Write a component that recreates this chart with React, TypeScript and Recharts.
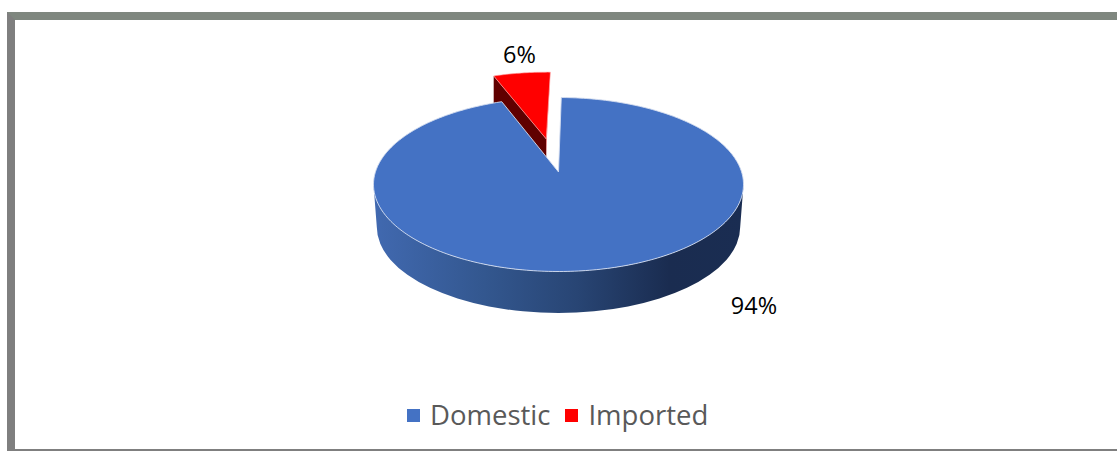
// App.tsx
// Domestic / imported share, drawn as a tilted pie with one exploded slice
import { PieChart, Pie, Legend } from 'recharts'

const categories = ['Domestic', 'Imported']
const shares = [94, 6]
const sliceColors = ['#4472c4', '#ff0000']

// painted back to front: the imported slice sits behind the domestic face
const rows = categories
  .map((name, i) => ({ name, value: shares[i], fill: sliceColors[i] }))
  .reverse()

const CX = 558.5
const CY = 184.5
const RX = 185
const RY = 87
const HUB_SHIFT = 0.144 // perspective: where the circle's centre lands on the ellipse
const EXPLODE = 0.416
const RAD = Math.PI / 180

const labelOffsets: Record<string, [number, number]> = {
  Domestic: [190.5, 115.5],
  Imported: [-44, -135.5],
}

// disc coordinates -> screen, a projective map that keeps the outline an ellipse
const project = (u: number, v: number): [number, number] => {
  const w = 1 + HUB_SHIFT * v
  const x = (u * Math.sqrt(1 - HUB_SHIFT * HUB_SHIFT)) / w
  const y = (v + HUB_SHIFT) / w
  return [CX + RX * x, CY - RY * y]
}

const wedge = (startAngle: number, endAngle: number, ox = 0, oy = 0) => {
  const pts: [number, number][] = []
  const steps = Math.max(2, Math.ceil(Math.abs(endAngle - startAngle)))
  for (let i = 0; i <= steps; i++) {
    const a = (startAngle + ((endAngle - startAngle) * i) / steps) * RAD
    pts.push(project(ox + Math.cos(a), oy + Math.sin(a)))
  }
  return { hub: project(ox, oy), rim: pts }
}

const toPath = (pts: [number, number][]) =>
  'M' + pts.map(p => `${p[0].toFixed(2)},${p[1].toFixed(2)}`).join('L') + 'Z'

const DomesticSlice = ({ startAngle, endAngle, fill }: any) => {
  const { hub, rim } = wedge(startAngle, endAngle)
  const wall = `M${CX - RX},${CY} A${RX},${RY} 0 0 0 ${CX + RX},${CY} L${CX + 181.7},227 A181.7,86 0 0 1 ${CX - 181.7},227 Z`
  return (
    <g>
      <defs>
        <linearGradient id="domesticWall" x1="0" x2="1" y1="0" y2="0">
          <stop offset="0" stopColor="#4169b0" />
          <stop offset="0.3" stopColor="#33578f" />
          <stop offset="0.55" stopColor="#284574" />
          <stop offset="0.8" stopColor="#1a2c50" />
          <stop offset="1" stopColor="#1a2d52" />
        </linearGradient>
      </defs>
      <path d={wall} fill="url(#domesticWall)" />
      <path d={toPath([hub, ...rim])} fill={fill} stroke="#d5deef" strokeWidth={0.9} />
    </g>
  )
}

const ImportedSlice = ({ startAngle, endAngle, fill }: any) => {
  const mid = ((startAngle + endAngle) / 2) * RAD
  const { hub, rim } = wedge(startAngle, endAngle, EXPLODE * Math.cos(mid), EXPLODE * Math.sin(mid))
  const left = rim[0]
  const right = rim[rim.length - 1]
  const depth = 30
  return (
    <g>
      <path
        d={toPath([left, hub, [hub[0], hub[1] + depth], [left[0], left[1] + depth]])}
        fill="#600000"
      />
      <path
        d={toPath([right, hub, [hub[0], hub[1] + 18], [hub[0] + 1, hub[1] - 10]])}
        fill="#f06060"
      />
      <path d={toPath([hub, ...rim])} fill={fill} stroke="#ffb0b0" strokeWidth={0.6} />
    </g>
  )
}

const renderSlice = (props: any) =>
  props.name === 'Domestic' ? <DomesticSlice {...props} /> : <ImportedSlice {...props} />

const renderLabel = ({ cx, cy, name, value }: any) => {
  const [dx, dy] = labelOffsets[name]
  return (
    <text
      x={cx + dx}
      y={cy + dy}
      textAnchor="middle"
      dominantBaseline="central"
      fontFamily="'Open Sans', sans-serif"
      fontSize={23.5}
      fill="#000"
    >
      {value}%
    </text>
  )
}

const renderLegend = ({ payload }: any) => (
  <div style={{ display: 'flex', fontFamily: "'Open Sans', sans-serif", fontSize: 27.5, color: '#595959', lineHeight: '36px' }}>
    {payload.map((item: any) => (
      <div key={item.value} style={{ display: 'flex', alignItems: 'center', marginRight: 15 }}>
        <span style={{ width: 13, height: 13, background: item.color, marginRight: 10 }} />
        {item.value}
      </div>
    ))}
  </div>
)

export default function App() {
  return (
    <div style={{ position: 'absolute', left: 0, top: 0, width: 1117, height: 451, background: '#fff' }}>
      {/* frame: no right edge */}
      <div
        style={{
          position: 'absolute',
          left: 7,
          top: 12,
          width: 1110,
          height: 439,
          boxSizing: 'border-box',
          borderLeft: '8px solid #7f7f7f',
          borderTop: '8px solid #7f877f',
          borderBottom: '2px solid #7f7f7f',
        }}
      />
      <div style={{ position: 'absolute', left: 0, top: 0 }}>
        <PieChart width={1117} height={451}>
          <Pie
            data={rows}
            dataKey="value"
            nameKey="name"
            cx={CX}
            cy={CY}
            outerRadius={RX}
            startAngle={110.6}
            endAngle={-249.4}
            shape={renderSlice}
            label={renderLabel}
            labelLine={false}
            isAnimationActive={false}
          />
          <Legend
            content={renderLegend}
            layout="horizontal"
            wrapperStyle={{ position: 'absolute', left: 407, top: 397, width: 340, bottom: 'auto' }}
          />
        </PieChart>
      </div>
    </div>
  )
}
